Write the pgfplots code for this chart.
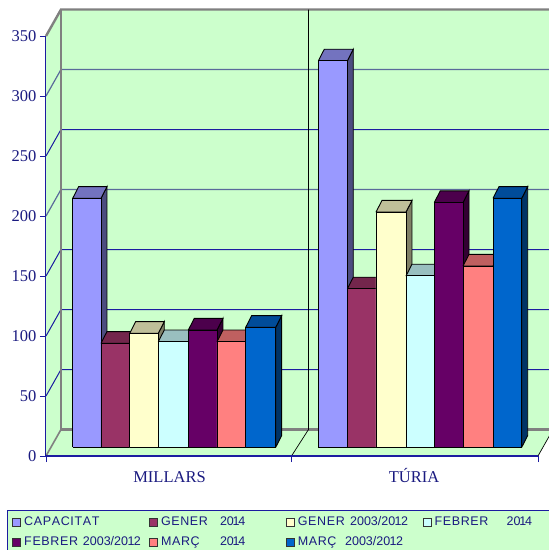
\documentclass[border=0pt]{standalone}
\usepackage{fontspec}
\usepackage{pgfplots}
\pgfplotsset{compat=1.18}
\setmainfont{Liberation Serif}
\newfontfamily\legfont[LetterSpace=5,Kerning=Off]{Liberation Sans}
\newfontfamily\legnum{Liberation Sans}

\definecolor{ink}{HTML}{1A1A80}
\definecolor{axisblue}{HTML}{1C1CA0}
\definecolor{gridgrey}{HTML}{5A6A9A}
\definecolor{wall}{HTML}{CCFFCC}
\definecolor{wallgrey}{HTML}{808080}
\definecolor{capacitat}{HTML}{9999FF}
\definecolor{generA}{HTML}{993366}
\definecolor{generB}{HTML}{FFFFCC}
\definecolor{febrerA}{HTML}{CCFFFF}
\definecolor{febrerB}{HTML}{660066}
\definecolor{marcA}{HTML}{FF8080}
\definecolor{marcB}{HTML}{0066CC}

% floor height of the bars, in axis units
\newcommand{\barbase}{7.25}

% one bar, side and top first, then the front: x0, x1, value, colour
\newcommand{\cubebar}[4]{%
  \pgfmathsetmacro\yb{\barbase}%
  \pgfmathsetmacro\yt{#3+\barbase}%
  \pgfmathsetmacro\ytt{#3+\barbase+9.75}%
  \pgfmathsetmacro\ybb{\barbase+9.75}%
  \pgfmathsetmacro\xa{#1+6}%
  \pgfmathsetmacro\xb{#2+6}%
  \addplot[forget plot,fill=#4!50!black,draw=black,line width=.9pt] coordinates {(#2,\yb)(\xb,\ybb)(\xb,\ytt)(#2,\yt)(#2,\yb)};
  \addplot[forget plot,fill=#4!75!black,draw=black,line width=.9pt] coordinates {(#1,\yt)(\xa,\ytt)(\xb,\ytt)(#2,\yt)(#1,\yt)};
  \addplot[forget plot,fill=#4,draw=black,line width=.9pt] coordinates {(#1,\yb)(#2,\yb)(#2,\yt)(#1,\yt)(#1,\yb)};
}
% legend text: name, offset of the number, number
\newcommand{\legtext}[3]{\hspace{3pt}\makebox[125pt][l]{\makebox[#2pt][l]{#1}{\legnum #3}}}
\newcommand{\yrA}{20\kern-1.2pt 1\kern-1.2pt 4}
\newcommand{\yrB}{2003/20\kern-.6pt 1\kern-.6pt 2}

\pgfplotsset{
  cube legend/.style={legend image code/.code={\draw[##1,draw=black!80,line width=.8pt] (0pt,-4pt) rectangle (8pt,4pt);}},
}

\begin{document}
\begin{tikzpicture}
\path[use as bounding box] (-46pt,-94pt) rectangle (503pt,456pt);
\begin{axis}[
  scale only axis,
  width=492pt,
  height=420pt,
  xmin=46, xmax=538,
  ymin=0, ymax=350,
  clip=false,
  axis on top=true,
  axis x line=bottom,
  axis y line=left,
  x axis line style={-,draw=axisblue,line width=1.2pt},
  y axis line style={-,draw=axisblue,line width=1pt},
  tick align=outside,
  ytick={0,50,...,350},
  xtick={46,291.5,538},
  xticklabels={},
  extra x ticks={169.5,414},
  extra x tick labels={MILLARS,TÚRIA},
  extra x tick style={major tick length=0pt,xticklabel style={yshift=-11pt,text height=12pt,text depth=0pt}},
  major tick length=6pt,
  tick style={draw=axisblue,line width=.8pt},
  minor tick num=0,
  tick label style={font=\fontsize{16.5}{18}\selectfont,text=ink},
  /pgf/number format/assume math mode=true,
  legend columns=4,
  cube legend,
  legend cell align=left,
  legend style={
    at={(axis cs:7,-45)},anchor=north west,
    fill=wall,draw=axisblue,line width=.9pt,
    font=\fontsize{12.5}{14}\selectfont\legfont,text=ink,
    inner xsep=5pt,inner ysep=5.8pt,
    nodes={inner sep=0pt,text height=9.5pt,text depth=2.5pt},
    row sep=8pt,
    /tikz/every even column/.append style={column sep=0pt},
  },
]
% walls and floor
\addplot[forget plot,fill=wall,draw=none] coordinates {(46,0)(61,22.08)(61,372.08)(46,350)(46,0)};
\addplot[forget plot,fill=wall,draw=none] coordinates {(61,22.08)(560,22.08)(560,372.08)(61,372.08)(61,22.08)};
\addplot[forget plot,fill=wall,draw=none] coordinates {(46,0)(61,22.08)(553,22.08)(538,0)(46,0)};

% gridlines on the back wall and the side wall
\addplot[forget plot,draw=axisblue,line width=1pt] coordinates {(46,50)(61,72.08)(560,72.08)};
\addplot[forget plot,draw=axisblue,line width=1pt] coordinates {(46,100)(61,122.08)(560,122.08)};
\addplot[forget plot,draw=axisblue,line width=1pt] coordinates {(46,150)(61,172.08)(560,172.08)};
\addplot[forget plot,draw=gridgrey,line width=1.2pt] coordinates {(46,200)(61,222.08)(560,222.08)};
\addplot[forget plot,draw=axisblue,line width=1pt] coordinates {(46,250)(61,272.08)(560,272.08)};
\addplot[forget plot,draw=gridgrey,line width=1.2pt] coordinates {(46,300)(61,322.08)(560,322.08)};

% wall outline
\addplot[forget plot,draw=wallgrey,line width=2.4pt] coordinates {(46,350)(61,372.08)(560,372.08)};
\addplot[forget plot,draw=wallgrey,line width=2.4pt] coordinates {(61,372.08)(61,22.08)(560,22.08)};
\addplot[forget plot,draw=wallgrey,line width=1.6pt] coordinates {(46,0)(61,22.08)};

% group divider and right floor edge
\addplot[forget plot,draw=black,line width=.7pt] coordinates {(308.5,372.08)(308.5,22.08)(291.5,0)};
\addplot[forget plot,draw=black,line width=.7pt] coordinates {(538,0)(553,22.08)};

% MILLARS
\cubebar{72.7}{101}{207.5}{capacitat}
\cubebar{101}{129.7}{86.7}{generA}
\cubebar{129.7}{158.3}{95}{generB}
\cubebar{158.3}{188.3}{88}{febrerA}
\cubebar{188.3}{217}{97.7}{febrerB}
\cubebar{217}{245.7}{88}{marcA}
\cubebar{245.7}{275.7}{100}{marcB}

% TURIA
\cubebar{318.3}{347.3}{322}{capacitat}
\cubebar{347.3}{376}{132}{generA}
\cubebar{376}{406}{196}{generB}
\cubebar{406}{434.3}{142.8}{febrerA}
\cubebar{434.3}{463}{204}{febrerB}
\cubebar{463}{493}{151}{marcA}
\cubebar{493}{521.7}{207.5}{marcB}

\addlegendimage{fill=capacitat}\addlegendentry{\legtext{CAPACITAT}{0}{}}
\addlegendimage{fill=generA}\addlegendentry{\legtext{GENER}{59}{\yrA}}
\addlegendimage{fill=generB}\addlegendentry{\legtext{GENER}{52.3}{\yrB}}
\addlegendimage{fill=febrerA}\addlegendentry{\legtext{FEBRER}{72}{\yrA}}
\addlegendimage{fill=febrerB}\addlegendentry{\legtext{FEBRER}{58.7}{\yrB}}
\addlegendimage{fill=marcA}\addlegendentry{\legtext{MARÇ}{59}{\yrA}}
\addlegendimage{fill=marcB}\addlegendentry{\legtext{MARÇ}{47.3}{\yrB}}
\end{axis}
\end{tikzpicture}
\end{document}
